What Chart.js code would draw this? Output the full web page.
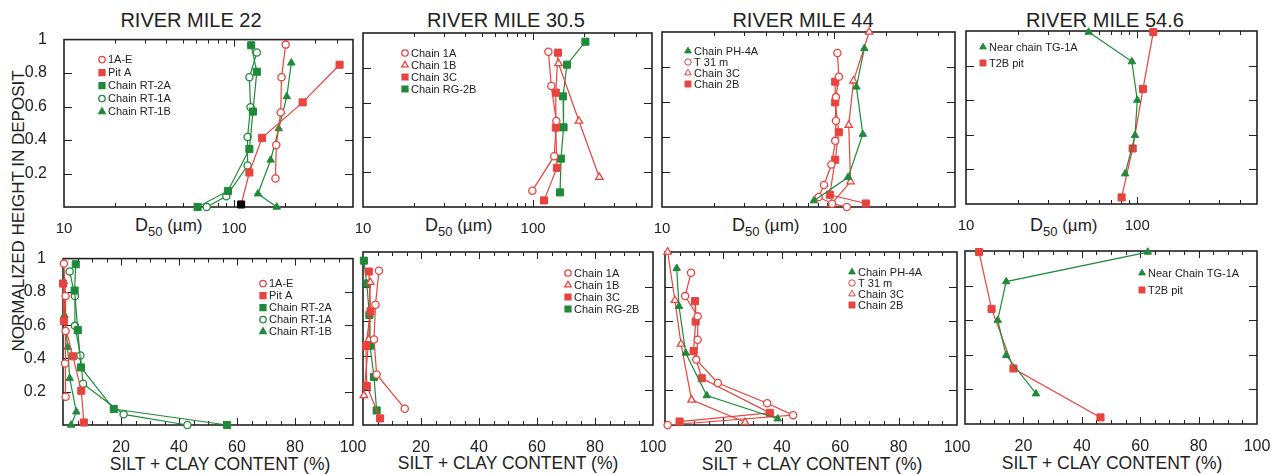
<!DOCTYPE html>
<html><head><meta charset="utf-8">
<script src="https://cdn.jsdelivr.net/npm/chart.js@4.4.1/dist/chart.umd.min.js"></script>
<style>
html,body{margin:0;padding:0;background:#fff}
body{width:1278px;height:475px;position:relative;overflow:hidden;font-family:"Liberation Sans",Arial,Helvetica,sans-serif;color:#222}
canvas{position:absolute}
.t{position:absolute;white-space:nowrap;transform:translate(-50%,-50%);line-height:1}
.clip{position:absolute;left:0;top:210px;width:1278px;height:28px;overflow:hidden}
.d50{position:absolute;top:6px;white-space:nowrap;line-height:18px}
</style></head><body>
<div class="t" style="left:191px;top:20px;font-size:20px">RIVER MILE 22</div>
<div class="t" style="left:506px;top:20px;font-size:20px">RIVER MILE 30.5</div>
<div class="t" style="left:803px;top:20px;font-size:20px">RIVER MILE 44</div>
<div class="t" style="left:1105px;top:20px;font-size:20px">RIVER MILE 54.6</div>
<div class="t" style="left:18px;top:211px;font-size:17px;transform:translate(-50%,-50%) rotate(-90deg)">NORMALIZED HEIGHT IN DEPOSIT</div>
<div class="t" style="left:220px;top:465px;font-size:17.5px">SILT + CLAY CONTENT (%)</div>
<div class="t" style="left:508px;top:464px;font-size:17.5px">SILT + CLAY CONTENT (%)</div>
<div class="t" style="left:812px;top:465px;font-size:17.5px">SILT + CLAY CONTENT (%)</div>
<div class="t" style="left:1112px;top:464px;font-size:17.5px">SILT + CLAY CONTENT (%)</div>
<div class="clip">
 <div class="d50" style="left:135px"><span style="font-size:18px">D</span><span style="font-size:13px;position:relative;top:5px">50</span><span style="font-size:17px"> (µm)</span></div>
 <div class="d50" style="left:425px"><span style="font-size:18px">D</span><span style="font-size:13px;position:relative;top:5px">50</span><span style="font-size:17px"> (µm)</span></div>
 <div class="d50" style="left:732px"><span style="font-size:18px">D</span><span style="font-size:13px;position:relative;top:5px">50</span><span style="font-size:17px"> (µm)</span></div>
 <div class="d50" style="left:1030px"><span style="font-size:18px">D</span><span style="font-size:13px;position:relative;top:5px">50</span><span style="font-size:17px"> (µm)</span></div>
</div>
<script>
// ---------- DATA (normalized height, D50 in µm, silt+clay %) ----------
// River Mile 22
const rm22_1AE_h    = [0.97, 0.775, 0.565, 0.37, 0.17];
const rm22_1AE_d50  = [201, 190, 188, 177, 175];
const rm22_1AE_silt = [0.3, 0.9, 0.9, 0.7, 0.9];
const rm22_PitA_h    = [0.85, 0.625, 0.413, 0.206, 0.015];
const rm22_PitA_d50  = [417, 253, 146, 123, 110];
const rm22_PitA_silt = [0, 0.3, 3.4, 6.3, 7.2];
const rm22_RT2A_h    = [0.966, 0.808, 0.57, 0.346, 0.096, 0];
const rm22_RT2A_d50  = [126, 136, 129, 123, 92, 61];
const rm22_RT2A_silt = [4.4, 4.0, 5.1, 6.2, 17.5, 56.6];
const rm22_RT1A_h    = [0.923, 0.775, 0.596, 0.418, 0.248, 0.064, 0];
const rm22_RT1A_d50  = [136, 123, 125, 120, 120, 90, 69];
const rm22_RT1A_silt = [2.3, 4.1, 4.1, 6.0, 6.9, 20.9, 42.9];
const rm22_RT1B_h    = [0.861, 0.66, 0.468, 0.281, 0.079, 0];
const rm22_RT1B_d50  = [217, 204, 183, 164, 138, 178];
const rm22_RT1B_silt = [0.3, 0.5, 1.6, 2.3, 4.6, 2.8];
// River Mile 30.5
const rm30_1A_h    = [0.892, 0.695, 0.494, 0.292, 0.094];
const rm30_1A_d50  = [123, 128, 137, 133, 99];
const rm30_1A_silt = [5.5, 4.3, 3.8, 4.7, 14.4];
const rm30_1B_h    = [0.825, 0.494, 0.171];
const rm30_1B_d50  = [141, 186, 245];
const rm30_1B_silt = [2.5, 2.0, 0.3];
const rm30_3C_h    = [0.887, 0.657, 0.456, 0.225, 0.038];
const rm30_3C_d50  = [140, 136, 136, 138, 116];
const rm30_3C_silt = [2.0, 2.6, 1.0, 1.3, 5.9];
const rm30_RG2B_h    = [0.95, 0.818, 0.636, 0.458, 0.278, 0.084];
const rm30_RG2B_d50  = [203, 158, 150, 151, 146, 144];
const rm30_RG2B_silt = [0.3, 1.3, 2.2, 2.4, 3.8, 4.7];
// River Mile 44
const rm44_PH4A_h    = [0.906, 0.686, 0.416, 0.17, 0.036];
const rm44_PH4A_d50  = [149, 134, 146, 120, 76];
const rm44_PH4A_silt = [4.0, 4.8, 7.1, 14.3, 38.6];
const rm44_T31_h    = [0.88, 0.745, 0.628, 0.493, 0.378, 0.243, 0.126, 0.057, 0.019, 0];
const rm44_T31_d50  = [104, 106, 102, 102, 101, 96, 87, 81, 97, 118];
const rm44_T31_silt = [8.9, 6.9, 11.2, 11.2, 10.7, 18.1, 35.0, 43.9, null, 0.9];
const rm44_3C_h    = [1.0, 0.721, 0.468, 0.145, 0.016];
const rm44_3C_d50  = [159, 129, 121, 124, 96];
const rm44_3C_silt = [0.9, 3.4, 5.5, 9.1, 27.4];
const rm44_2B_h    = [0.716, 0.598, 0.427, 0.27, 0.07, 0.02];
const rm44_2B_d50  = [101, 101, 106, 101, 94, 152];
const rm44_2B_silt = [10.3, 10.5, 9.8, 12.6, 35.9, 5.0];
// River Mile 54.6
const rm54_TG1A_h    = [0.994, 0.823, 0.6, 0.397, 0.175];
const rm54_TG1A_d50  = [52, 93, 100, 97, 85];
const rm54_TG1A_silt = [62.6, 14.1, 11.2, 14.1, 24.3];
const rm54_T2B_h    = [0.994, 0.665, 0.321, 0.038];
const rm54_T2B_d50  = [124, 108, 94, 81];
const rm54_T2B_silt = [4.8, 9.1, 16.6, 46.4];

// tick labels
const d50TickLabels = [10, 100];
const siltTickLabels = [20, 40, 60, 80, 100];
const heightTickLabels = [0.2, 0.4, 0.6, 0.8, 1];

// ---------- STYLE ----------
const R = '#e8433e', G = '#1f8a39', K = '#222';
const FONT = '"Liberation Sans", Arial, Helvetica, sans-serif';
const PL = 45, PT = 12, PR = 20, PB = 28;

function ds(label, xs, hs, color, style, open, extra) {
  const r = style === 'rect' ? 5 : (style === 'circle' ? 3.6 : 4.3);
  return Object.assign({
    label,
    data: xs.map((v, i) => ({x: v, y: hs[i]})),
    showLine: true, spanGaps: true, tension: 0,
    borderColor: color, borderWidth: 1.2,
    pointStyle: style, pointRadius: r,
    pointBackgroundColor: open ? '#fff' : color,
    pointBorderColor: color, pointBorderWidth: open ? 1.3 : 1,
    clip: false,
    _open: open
  }, extra || {});
}

const frame = {
  id: 'frame',
  beforeDatasetsDraw(chart, args, o) {
    const {ctx, chartArea: a, scales: {x, y}} = chart;
    ctx.save();
    ctx.strokeStyle = K; ctx.lineWidth = 1;
    ctx.beginPath();
    (o.xt || []).forEach(([v, len]) => {
      const p = Math.round(x.getPixelForValue(v)) + 0.5;
      ctx.moveTo(p, a.bottom); ctx.lineTo(p, a.bottom - len);
      ctx.moveTo(p, a.top); ctx.lineTo(p, a.top + len);
    });
    (o.yt || []).forEach(([v, len]) => {
      const p = Math.round(y.getPixelForValue(v)) + 0.5;
      ctx.moveTo(a.left, p); ctx.lineTo(a.left + len, p);
      ctx.moveTo(a.right, p); ctx.lineTo(a.right - len, p);
    });
    ctx.stroke();
    ctx.lineWidth = 1.6;
    ctx.strokeRect(a.left, a.top, a.width, a.height);
    ctx.restore();
  }
};

const inlegend = {
  id: 'inlegend',
  afterDatasetsDraw(chart, args, o) {
    const {ctx, chartArea: a} = chart;
    ctx.save();
    ctx.font = '11px ' + FONT;
    ctx.textBaseline = 'middle';
    ctx.textAlign = 'left';
    chart.data.datasets.forEach((d, i) => {
      const mx = a.left + o.dx, my = a.top + o.dy + i * o.step;
      ctx.fillStyle = d._open ? '#fff' : d.borderColor;
      ctx.strokeStyle = d.borderColor;
      const rr = d.pointStyle === 'rect' ? 4.2 : (d.pointStyle === 'circle' ? 3.2 : 3.8);
      Chart.helpers.drawPoint(ctx, {pointStyle: d.pointStyle, radius: rr, rotation: 0, borderWidth: 1.1}, mx, my);
      ctx.fillStyle = K;
      ctx.fillText(d.label, mx + 6, my + 0.5);
    });
    ctx.restore();
  }
};

const logMinor = [20, 30, 40, 50, 60, 70, 80, 90, 200, 300, 400];
const linMinor = [];
for (let v = 5; v < 100; v += 5) linMinor.push(v);

function makeChart(box, top, showY, datasets, leg) {
  const [l, t, r, b] = box;
  const W = r - l + PL + PR, H = b - t + PT + PB;
  const cv = document.createElement('canvas');
  cv.width = W; cv.height = H;
  cv.style.left = (l - PL) + 'px'; cv.style.top = (t - PT) + 'px';
  cv.style.width = W + 'px'; cv.style.height = H + 'px';
  document.body.appendChild(cv);
  const tickFont = {family: FONT, size: 16};
  const xScale = top ? {
    type: 'logarithmic', min: 10, max: 500,
    afterBuildTicks: s => { s.ticks = d50TickLabels.map(v => ({value: v})); },
    ticks: {callback: v => String(v), font: {family: FONT, size: 15}, color: K, padding: 5, maxRotation: 0, autoSkip: false},
    grid: {display: false}, border: {display: false},
    afterFit: s => { s.height = PB; }
  } : {
    type: 'linear', min: 0, max: 100,
    afterBuildTicks: s => { s.ticks = siltTickLabels.map(v => ({value: v})); },
    ticks: {callback: v => String(v), font: tickFont, color: K, padding: 5, maxRotation: 0, autoSkip: false},
    grid: {display: false}, border: {display: false},
    afterFit: s => { s.height = PB; }
  };
  const xt = top ? [[100, 7]].concat(logMinor.map(v => [v, 4])) :
    linMinor.map(v => [v, v % 20 === 0 ? 7 : 4]);
  return new Chart(cv, {
    type: 'scatter',
    data: {datasets},
    options: {
      responsive: false, animation: false, devicePixelRatio: 1,
      layout: {padding: {top: PT, right: PR, left: 0, bottom: 0}},
      plugins: {
        legend: {display: false}, tooltip: {enabled: false},
        frame: {xt, yt: [[0.2, 8], [0.4, 8], [0.6, 8], [0.8, 8]]},
        inlegend: leg
      },
      scales: {
        x: xScale,
        y: {
          type: 'linear', min: 0, max: 1,
          afterBuildTicks: s => { s.ticks = heightTickLabels.map(v => ({value: v})); },
          ticks: {display: showY, callback: v => String(+(+v).toFixed(1)), font: tickFont, color: K, padding: 9, autoSkip: false},
          grid: {display: false}, border: {display: false},
          afterFit: s => { s.width = PL; }
        }
      }
    },
    plugins: [frame, inlegend]
  });
}

const pitAColors = rm22_PitA_d50.map((v, i) => i === rm22_PitA_d50.length - 1 ? '#000' : R);

// ---------- TOP ROW: D50 ----------
makeChart([64, 33, 353, 207], true, true, [
  ds('1A-E', rm22_1AE_d50, rm22_1AE_h, R, 'circle', true),
  ds('Pit A', rm22_PitA_d50, rm22_PitA_h, R, 'rect', false, {pointBackgroundColor: pitAColors, pointBorderColor: pitAColors}),
  ds('Chain RT-2A', rm22_RT2A_d50, rm22_RT2A_h, G, 'rect', false),
  ds('Chain RT-1A', rm22_RT1A_d50, rm22_RT1A_h, G, 'circle', true),
  ds('Chain RT-1B', rm22_RT1B_d50, rm22_RT1B_h, G, 'triangle', false)
], {dx: 38, dy: 20, step: 13});

makeChart([363, 33, 652, 207], true, false, [
  ds('Chain 1A', rm30_1A_d50, rm30_1A_h, R, 'circle', true),
  ds('Chain 1B', rm30_1B_d50, rm30_1B_h, R, 'triangle', true),
  ds('Chain 3C', rm30_3C_d50, rm30_3C_h, R, 'rect', false),
  ds('Chain RG-2B', rm30_RG2B_d50, rm30_RG2B_h, G, 'rect', false)
], {dx: 42, dy: 20, step: 12});

makeChart([662, 32, 955, 207], true, false, [
  ds('Chain PH-4A', rm44_PH4A_d50, rm44_PH4A_h, G, 'triangle', false),
  ds('T 31 m', rm44_T31_d50, rm44_T31_h, R, 'circle', true),
  ds('Chain 3C', rm44_3C_d50, rm44_3C_h, R, 'triangle', true),
  ds('Chain 2B', rm44_2B_d50, rm44_2B_h, R, 'rect', false)
], {dx: 26, dy: 19, step: 11});

makeChart([966, 31, 1257, 204], true, false, [
  ds('Near chain TG-1A', rm54_TG1A_d50, rm54_TG1A_h, G, 'triangle', false),
  ds('T2B pit', rm54_T2B_d50, rm54_T2B_h, R, 'rect', false)
], {dx: 17, dy: 16, step: 16});

// ---------- BOTTOM ROW: SILT + CLAY ----------
makeChart([63, 252, 353, 425], false, true, [
  ds('1A-E', rm22_1AE_silt, rm22_1AE_h, R, 'circle', true),
  ds('Pit A', rm22_PitA_silt, rm22_PitA_h, R, 'rect', false),
  ds('Chain RT-2A', rm22_RT2A_silt, rm22_RT2A_h, G, 'rect', false),
  ds('Chain RT-1A', rm22_RT1A_silt, rm22_RT1A_h, G, 'circle', true),
  ds('Chain RT-1B', rm22_RT1B_silt, rm22_RT1B_h, G, 'triangle', false)
], {dx: 200, dy: 25, step: 12});

makeChart([363, 252, 653, 425], false, false, [
  ds('Chain 1A', rm30_1A_silt, rm30_1A_h, R, 'circle', true),
  ds('Chain 1B', rm30_1B_silt, rm30_1B_h, R, 'triangle', true),
  ds('Chain 3C', rm30_3C_silt, rm30_3C_h, R, 'rect', false),
  ds('Chain RG-2B', rm30_RG2B_silt, rm30_RG2B_h, G, 'rect', false)
], {dx: 205, dy: 21, step: 12});

makeChart([665, 252, 957, 425], false, false, [
  ds('Chain PH-4A', rm44_PH4A_silt, rm44_PH4A_h, G, 'triangle', false),
  ds('T 31 m', rm44_T31_silt, rm44_T31_h, R, 'circle', true),
  ds('Chain 3C', rm44_3C_silt, rm44_3C_h, R, 'triangle', true),
  ds('Chain 2B', rm44_2B_silt, rm44_2B_h, R, 'rect', false)
], {dx: 187, dy: 20, step: 11});

makeChart([965, 251, 1257, 424], false, false, [
  ds('Near Chain TG-1A', rm54_TG1A_silt, rm54_TG1A_h, G, 'triangle', false),
  ds('T2B pit', rm54_T2B_silt, rm54_T2B_h, R, 'rect', false)
], {dx: 177, dy: 22, step: 17});
</script>
</body></html>
